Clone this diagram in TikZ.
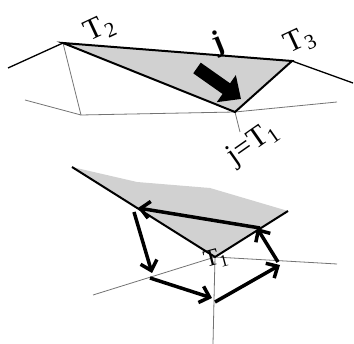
\documentclass[tikz,border=0pt]{standalone}
\usepackage{fontspec}
\setmainfont{Liberation Serif}
\usetikzlibrary{arrows.meta}
\newcommand{\rlab}[2]{\rotatebox{#1}{#2}}
\begin{document}
\begin{tikzpicture}[x=1pt,y=-1pt,
  grayline/.style={draw=black!55, line width=0.8pt},
  blackline/.style={draw=black, line width=1.3pt},
  edgeline/.style={draw=black, line width=2pt, line join=miter},
  face/.style={fill=black!18},
  lab/.style={font=\fontsize{30}{32}\selectfont, inner sep=0pt},
  smalllab/.style={font=\fontsize{24}{26}\selectfont, inner sep=0pt},
  flow/.style={draw=black, line width=3.5pt, -{Straight Barb[length=9pt,width=17pt]}},
  bigarrow/.style={draw=black, line width=13pt, -{Triangle[length=18pt,width=32pt]}}]
\useasboundingbox (0,0) rectangle (354,344);
% ---- top part
\coordinate (T2) at (63,43);
\coordinate (T3) at (292,61);
\coordinate (T1) at (235,112);
\coordinate (L) at (8,68);
\coordinate (R) at (353,83);
\coordinate (G1) at (81,115);
\coordinate (G2) at (25,100);
\coordinate (G3) at (337,102);
\coordinate (G4) at (240,132);
\path[grayline] (T2) -- (G1) -- (T1);
\path[grayline] (G2) -- (G1);
\path[grayline] (T1) -- (G3);
\path[grayline] (T1) -- (G4);
\path[blackline] (L) -- (T2);
\path[blackline] (T3) -- (R);
\path[face, edgeline] (T2) -- (T3) -- (T1) -- cycle;
\coordinate (bs) at (197,68);
\coordinate (bt) at (241,99);
\path[bigarrow] (bs) -- (bt);
\node[lab] (t2lab) at (100,29) {\rlab{25}{T\textsubscript{2}}};
\node[lab] (t3lab) at (300,41) {\rlab{25}{T\textsubscript{3}}};
\node[lab, font=\fontsize{30}{32}\selectfont\bfseries] (jlab) at (218,44) {\rlab{22}{j}};
\node[lab] (t1lab) at (253,144) {\rlab{35}{j=T\textsubscript{1}}};
% ---- bottom part
\coordinate (P0) at (72,167);
\coordinate (P1) at (137,182);
\coordinate (P2) at (210,188);
\coordinate (P3) at (288,211);
\coordinate (B) at (215,257);
\coordinate (H1) at (93,295);
\coordinate (H2) at (337,264);
\coordinate (H3) at (213,344);
\path[face] (P0) -- (P1) -- (P2) -- (P3) -- (B) -- cycle;
\path[grayline] (B) -- (H1);
\path[grayline] (B) -- (H2);
\path[grayline] (B) -- (H3);
\path[edgeline] (P0) -- (B) -- (P3);
\node[smalllab] (b1lab) at (216,259) {\rlab{15}{T\textsubscript{1}}};
\coordinate (a1s) at (260,228);
\coordinate (a1e) at (138,208);
\coordinate (a2s) at (134,212);
\coordinate (a2e) at (152,273);
\coordinate (a3s) at (150,278);
\coordinate (a3e) at (212,298);
\coordinate (a4s) at (215,302);
\coordinate (a4e) at (280,265);
\coordinate (a5s) at (278,262);
\coordinate (a5e) at (257,228);
\path[flow] (a1s) -- (a1e);
\path[flow] (a2s) -- (a2e);
\path[flow] (a3s) -- (a3e);
\path[flow] (a4s) -- (a4e);
\path[flow] (a5s) -- (a5e);
\end{tikzpicture}
\end{document}
